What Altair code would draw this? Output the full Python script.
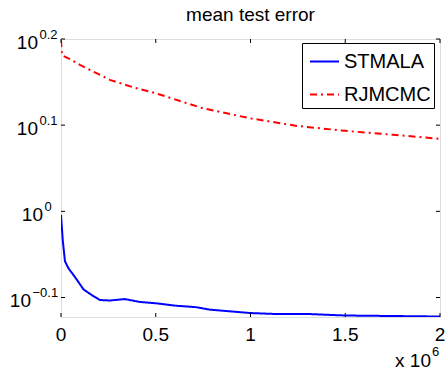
import altair as alt
import pandas as pd

# ---- data ----
series_names = ["STMALA", "RJMCMC"]
x_stmala = [0, 9000, 21000, 39000, 65000, 82000, 118000, 153000, 205000, 258000,
            337000, 416000, 503000, 609000, 714000, 784000, 907000, 1000000,
            1135000, 1310000, 1500000, 1750000, 2000000]
y_stmala = [0.991, 0.927, 0.875, 0.859, 0.844, 0.834, 0.812, 0.802, 0.789, 0.788,
            0.791, 0.785, 0.782, 0.777, 0.774, 0.769, 0.765, 0.762,
            0.760, 0.760, 0.757, 0.756, 0.755]
x_rjmcmc = [0, 5000, 47000, 100000, 258000, 381000, 500000, 749000, 1000000,
            1250000, 1500000, 1750000, 2000000]
y_rjmcmc = [1.58, 1.518, 1.502, 1.479, 1.421, 1.393, 1.371, 1.317, 1.282,
            1.256, 1.240, 1.227, 1.214]

x_ticks = [0, 500000, 1000000, 1500000, 2000000]
x_tick_labels = ["0", "0.5", "1", "1.5", "2"]
y_ticks = [10 ** 0.2, 10 ** 0.1, 10 ** 0, 10 ** -0.1]
y_tick_base = ["10", "10", "10", "10"]
y_tick_sups = ["0.2", "0.1", "0", "\u22120.1"]
x_mult_text = ["x 10", "6"]
title_text = ["mean test error"]

# ---- style ----
W, H = 379, 278
FONT = "Liberation Sans"
ten_right = [-23, -23, -18, -30]   # right edge of the "10" part of each y label
TICK = 4

df = pd.concat([
    pd.DataFrame({"x": x_stmala, "y": y_stmala, "series": series_names[0]}),
    pd.DataFrame({"x": x_rjmcmc, "y": y_rjmcmc, "series": series_names[1]}),
])

xs = alt.Scale(domain=[0, 2000000], nice=False, zero=False)
ys = alt.Scale(type="log", domain=[0.7540, 1.5849], nice=False)

legend = alt.Legend(
    title=None, orient="none", legendX=241, legendY=4,
    fillColor="white", strokeColor="black", padding=3, rowPadding=7,
    symbolType="stroke", symbolSize=841, symbolStrokeWidth=2,
    labelFontSize=20, labelFont=FONT, labelColor="black",
    labelOffset=4, symbolOffset=4,
)

lines = alt.Chart(df).mark_line(clip=True, strokeWidth=2).encode(
    x=alt.X("x:Q", scale=xs, axis=None),
    y=alt.Y("y:Q", scale=ys, axis=None),
    color=alt.Color("series:N", scale=alt.Scale(domain=series_names, range=["#0000ff", "#ff0000"]), legend=legend),
    strokeDash=alt.StrokeDash("series:N", scale=alt.Scale(domain=series_names, range=[[1, 0], [7, 4, 2, 4]]), legend=legend),
)

ydf = pd.DataFrame({"v": y_ticks, "base": y_tick_base, "sup": y_tick_sups})
xdf = pd.DataFrame({"t": x_ticks, "lab": x_tick_labels})

left_ticks = alt.Chart(ydf).mark_rule(color="black", strokeWidth=1).encode(
    y=alt.Y("v:Q", scale=ys, axis=None), x=alt.value(0), x2=alt.value(TICK))
right_ticks = alt.Chart(ydf).mark_rule(color="black", strokeWidth=1).encode(
    y=alt.Y("v:Q", scale=ys, axis=None), x=alt.value(W - TICK), x2=alt.value(W))
bottom_ticks = alt.Chart(xdf).mark_rule(color="black", strokeWidth=1).encode(
    x=alt.X("t:Q", scale=xs, axis=None), y=alt.value(H), y2=alt.value(H - TICK))
top_ticks = alt.Chart(xdf).mark_rule(color="black", strokeWidth=1).encode(
    x=alt.X("t:Q", scale=xs, axis=None), y=alt.value(0), y2=alt.value(TICK))

x_labels = alt.Chart(xdf).mark_text(fontSize=19, font=FONT, align="center", baseline="alphabetic", color="black").encode(
    x=alt.X("t:Q", scale=xs, axis=None), y=alt.value(H + 24), text="lab:N")

y_label_layers = []
for i in range(len(y_ticks)):
    row = ydf.iloc[[i]]
    y_label_layers.append(
        alt.Chart(row).mark_text(fontSize=19, font=FONT, align="right", baseline="alphabetic", dy=9.5, color="black").encode(
            y=alt.Y("v:Q", scale=ys, axis=None), x=alt.value(ten_right[i]), text="base:N"))
    y_label_layers.append(
        alt.Chart(row).mark_text(fontSize=13, font=FONT, align="left", baseline="alphabetic", dy=-0.5, color="black").encode(
            y=alt.Y("v:Q", scale=ys, axis=None), x=alt.value(ten_right[i] + 1.5), text="sup:N"))

mult_df = pd.DataFrame({"base": [x_mult_text[0]], "sup": [x_mult_text[1]]})
mult_base = alt.Chart(mult_df).mark_text(fontSize=19, font=FONT, align="right", baseline="alphabetic", color="black").encode(
    x=alt.value(370), y=alt.value(328), text="base:N")
mult_sup = alt.Chart(mult_df).mark_text(fontSize=13, font=FONT, align="left", baseline="alphabetic", color="black").encode(
    x=alt.value(371), y=alt.value(317), text="sup:N")

title_df = pd.DataFrame({"t": title_text})
title = alt.Chart(title_df).mark_text(fontSize=19, font=FONT, align="center", baseline="alphabetic", color="black").encode(
    x=alt.value(W / 2), y=alt.value(-18), text="t:N")

chart = alt.layer(
    lines, left_ticks, right_ticks, bottom_ticks, top_ticks, x_labels,
    *y_label_layers, mult_base, mult_sup, title,
).properties(
    width=W, height=H,
    autosize=alt.AutoSizeParams(type="none"),
    padding={"left": 61, "top": 39, "right": 6, "bottom": 54},
).configure_view(stroke="black", strokeWidth=1).configure(background="white")

chart.save("out.html", embed_options={"renderer": "svg", "actions": False})
